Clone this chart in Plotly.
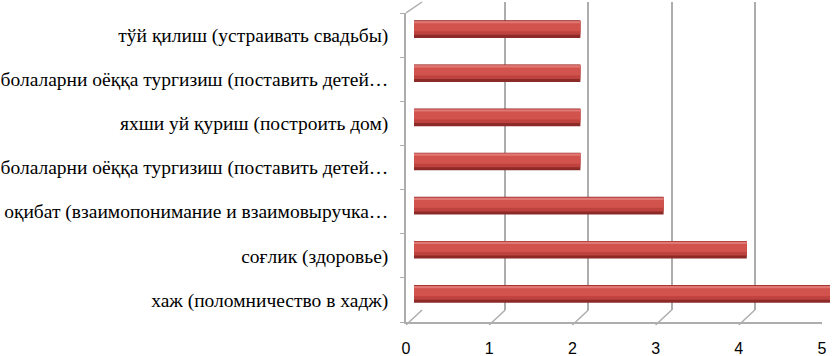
import plotly.graph_objects as go

# categories listed bottom -> top, as they sit on the axis
categories = [
    "хаж (поломничество в хадж)",
    "соғлик (здоровье)",
    "оқибат (взаимопонимание и взаимовыручка…",
    "болаларни оёққа тургизиш (поставить детей…",
    "яхши уй қуриш (построить дом)",
    "болаларни оёққа тургизиш (поставить детей…",
    "тўй қилиш (устраивать свадьбы)",
]
values = [5, 4, 3, 2, 2, 2, 2]
x_ticks = [0, 1, 2, 3, 4, 5]

W, H = 839, 356
positions = list(range(len(categories)))

# pixel -> paper helpers (margins are zero)
def px(x):
    return x / W

def py(y):
    return 1 - y / H

grid_col = '#ADADAD'
depth_x = 16 / (416 / 5)  # 3d depth of the box, in x units
serif = 'Times New Roman, Liberation Serif, serif'

fig = go.Figure()

# invisible helpers so the back wall (x/y) and front axes (x2/y2) get drawn
fig.add_trace(go.Scatter(x=[x_ticks[0], x_ticks[-1]], y=[0, 1], mode='markers',
                         marker=dict(opacity=0), xaxis='x', yaxis='y',
                         hoverinfo='skip', showlegend=False))
fig.add_trace(go.Scatter(x=[x_ticks[0], x_ticks[-1]], y=[positions[0], positions[-1]],
                         mode='markers', marker=dict(opacity=0), xaxis='x2', yaxis='y2',
                         hoverinfo='skip', showlegend=False))

# cylinder look: stacked bars of decreasing width, lighter towards the top
# bars sit on x3/y3 so they are drawn over the back wall grid
layers = [
    (0.40, -0.20, '#8C2A28'),
    (0.32, -0.13, '#BE423E'),
    (0.22, -0.05, '#D2524E'),
    (0.05, 0.13, '#E07874'),
]
for width, offset, col in layers:
    fig.add_trace(go.Bar(
        x=values, y=positions, orientation='h', width=width, offset=offset,
        marker=dict(color=col, line=dict(width=0)),
        xaxis='x3', yaxis='y3', hoverinfo='skip', showlegend=False))

shapes = []
for k in x_ticks:
    shapes.append(dict(type='line', xref='x2', yref='paper', layer='below',
                       x0=k, y0=py(325), x1=k + depth_x, y1=py(310),
                       line=dict(color=grid_col, width=1.5)))
shapes.append(dict(type='line', xref='x2', yref='paper', layer='below',
                   x0=0, y0=py(13), x1=depth_x, y1=py(2),
                   line=dict(color=grid_col, width=1.5)))

fig.update_layout(
    width=W, height=H,
    margin=dict(l=0, r=0, t=0, b=0),
    paper_bgcolor='white', plot_bgcolor='rgba(0,0,0,0)',
    barmode='overlay', showlegend=False,
    # back wall with gridlines
    xaxis=dict(domain=[px(422), px(838)], range=[0, 5], anchor='y',
               tickvals=x_ticks, showticklabels=False, ticks='',
               showgrid=True, gridcolor=grid_col, gridwidth=2,
               zeroline=False, showline=False, automargin=False),
    yaxis=dict(domain=[py(310), py(2)], range=[0, 1], anchor='x',
               showgrid=False, showticklabels=False, ticks='',
               zeroline=False, showline=False, automargin=False),
    # front axes with labels
    xaxis2=dict(domain=[px(406), px(822)], range=[0, 5], anchor='y2',
                tickvals=x_ticks, ticks='', showgrid=False, zeroline=False,
                showline=True, linecolor=grid_col, linewidth=1.5,
                tickfont=dict(family='Liberation Sans', size=16, color='#000000'),
                ticklabelstandoff=11, automargin=False),
    yaxis2=dict(domain=[py(322), py(13)], range=[-0.5, 6.5], anchor='x2',
                tickvals=positions, ticktext=categories, ticks='',
                minor=dict(tick0=-0.5, dtick=1, ticks='outside', ticklen=4,
                           tickcolor=grid_col, showgrid=False),
                showgrid=False, zeroline=False,
                showline=True, linecolor=grid_col, linewidth=1.5,
                tickfont=dict(family=serif, size=19.5, color='#000000'),
                ticklabelstandoff=12, automargin=False),
    # bars, mid depth plane
    xaxis3=dict(domain=[px(414), px(830)], range=[0, 5], visible=False,
                anchor='y3', automargin=False),
    yaxis3=dict(domain=[py(316), py(7)], range=[-0.5, 6.5], visible=False,
                anchor='x3', automargin=False),
    shapes=shapes,
)

# page body has an 8px default margin, drop it so the chart fills the window
fig.write_html("out.html", config={'displayModeBar': False},
               post_script="document.body.style.margin='0';")
